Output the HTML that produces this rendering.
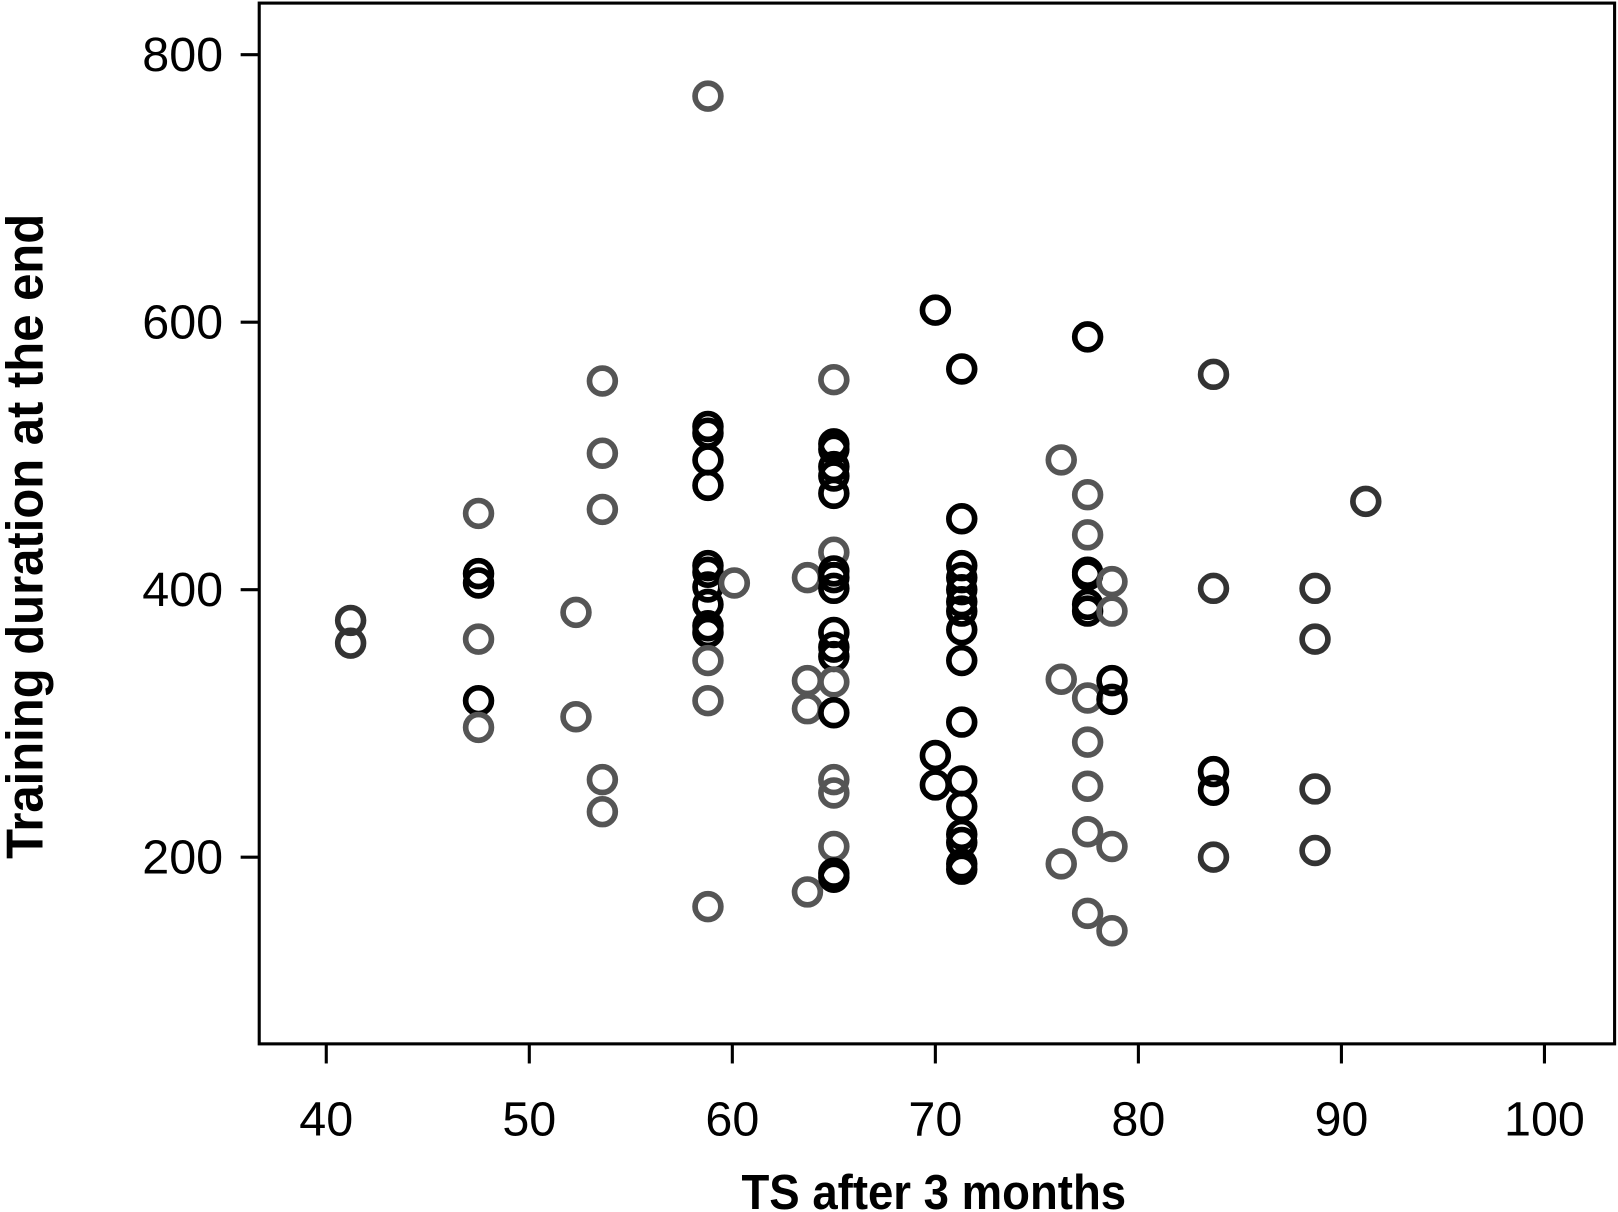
<!DOCTYPE html>
<html><head><meta charset="utf-8"><style>
html,body{margin:0;padding:0;background:#fff;}
svg{display:block;}
text{font-family:"Liberation Sans",sans-serif;}
</style></head><body>
<svg id="chart" width="1618" height="1212" viewBox="0 0 1568 1175" xmlns="http://www.w3.org/2000/svg">
<rect x="251" y="3" width="1314" height="1009" fill="none" stroke="#000" stroke-width="3"/>
<g id="xticks"></g>
<g id="yticks"></g>
<g id="points"></g>
<text x="905" y="1172" text-anchor="middle" font-size="48" font-weight="bold" transform="translate(905 0) scale(0.92 1) translate(-905 0)">TS after 3 months</text>
<text x="0" y="0" text-anchor="middle" font-size="50" font-weight="bold" transform="translate(41 520) rotate(-90) scale(0.95 1)">Training duration at the end</text>
</svg>
<script>
const xTicks=[40,50,60,70,80,90,100];
const yTicks=[200,400,600,800];
const xs=[41.2,41.2,47.5,47.5,47.5,47.5,47.5,47.5,52.3,52.3,53.6,53.6,53.6,53.6,53.6,
58.8,58.8,58.8,58.8,58.8,58.8,58.8,58.8,58.8,58.8,58.8,58.8,58.8,58.8,60.1,
63.7,63.7,63.7,63.7,
65,65,65,65,65,65,65,65,65,65,65,65,65,65,65,65,65,65,65,65,
70,70,70,
71.3,71.3,71.3,71.3,71.3,71.3,71.3,71.3,71.3,71.3,71.3,71.3,71.3,71.3,71.3,71.3,
76.2,76.2,76.2,
77.5,77.5,77.5,77.5,77.5,77.5,77.5,77.5,77.5,77.5,77.5,77.5,
78.7,78.7,78.7,78.7,78.7,78.7,
83.7,83.7,83.7,83.7,83.7,
88.7,88.7,88.7,88.7,91.2];
const ys=[377,360,457,412,405,363,317,297,383,305,556,502,460,258,234,
769,522,517,497,478,418,413,402,389,373,368,347,317,163,405,
409,332,311,174,
557,509,505,492,485,472,428,414,409,401,368,357,350,331,308,258,248,208,188,185,
609,276,254,
565,453,418,409,400,391,384,370,347,301,257,238,217,211,195,191,
497,333,195,
589,471,441,413,411,389,384,319,286,253,219,158,
406,384,332,318,208,145,
561,401,264,250,200,
401,363,251,205,466];
const shades=["dd","gkkgkg","gg","ggggg","gkkkkkkkkkkggg","g","gggg",
"gkkkkkgkkkkkkgkgggkk","kkk","kkkkkkkkkkkkkkkk","ggg","kggkkkkggggg","ggkkgg","ddkkd","dddd","d"].join("");
const NS="http://www.w3.org/2000/svg";
const X=v=>316+(v-40)*(1497-316)/60;
const Y=v=>831-(v-200)*(831-53)/600;
const colors={k:"#000",d:"#333",g:"#555"};
const xg=document.getElementById('xticks');
xTicks.forEach(t=>{
  const l=document.createElementNS(NS,'line');
  
  
  l.setAttribute('x1',X(t));l.setAttribute('x2',X(t));l.setAttribute('y1',1012);l.setAttribute('y2',1031);
  l.setAttribute('stroke','#000');l.setAttribute('stroke-width',3);xg.appendChild(l);
  const tx=document.createElementNS(NS,'text');
  
  
  tx.setAttribute('x',X(t));tx.setAttribute('y',1101);tx.setAttribute('text-anchor','middle');tx.setAttribute('font-size','47');
  tx.textContent=t;xg.appendChild(tx);
});
const yg=document.getElementById('yticks');
yTicks.forEach(t=>{
  const l=document.createElementNS(NS,'line');
  
  
  l.setAttribute('x1',233);l.setAttribute('x2',251);l.setAttribute('y1',Y(t));l.setAttribute('y2',Y(t));
  l.setAttribute('stroke','#000');l.setAttribute('stroke-width',3);yg.appendChild(l);
  const tx=document.createElementNS(NS,'text');
  
  
  tx.setAttribute('x',216);tx.setAttribute('y',Y(t)+16);tx.setAttribute('text-anchor','end');tx.setAttribute('font-size','47');
  tx.textContent=t;yg.appendChild(tx);
});
const pg=document.getElementById('points');
xs.forEach((x,i)=>{
  const c=document.createElementNS(NS,'circle');
  
  
  c.setAttribute('cx',X(x));c.setAttribute('cy',Y(ys[i]));c.setAttribute('r',12.5);
  c.setAttribute('fill','none');c.setAttribute('stroke',colors[shades[i]]||'#555');c.setAttribute('stroke-width',5.5);
  pg.appendChild(c);
});
</script>
</body></html>
